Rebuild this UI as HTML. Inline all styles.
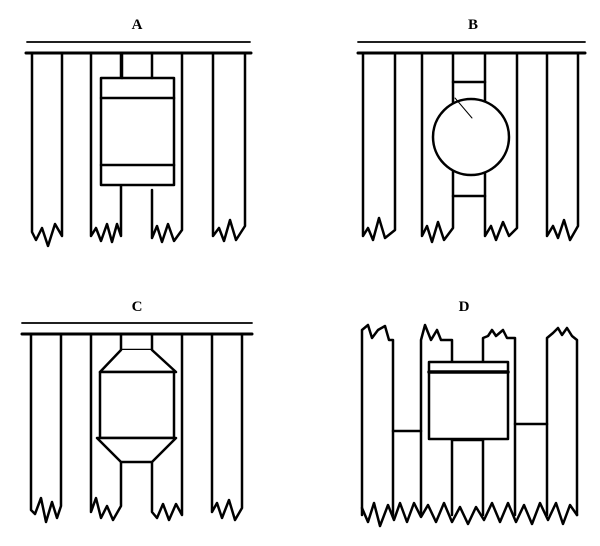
<!DOCTYPE html>
<html><head><style>html,body{margin:0;padding:0;background:#fff}svg{display:block}</style></head><body>
<svg width="600" height="546" viewBox="0 0 600 546" xmlns="http://www.w3.org/2000/svg">
<g font-family="Liberation Serif, serif" font-weight="bold" font-size="15" text-anchor="middle" fill="#000">
<text x="137" y="29">A</text><text x="473" y="29">B</text><text x="137" y="311">C</text><text x="464" y="311">D</text>
</g>
<g stroke="#000" fill="none" stroke-linecap="round" stroke-linejoin="round">
<!-- A -->
<line x1="27" y1="42" x2="250" y2="42" stroke-width="1.8"/>
<line x1="26" y1="53" x2="251" y2="53" stroke-width="3"/>
<g stroke-width="2.5">
<path d="M32 54 V232 L36 240 L42 228 L48 246 L55 224 L62 236 V54"/>
<path d="M91 54 V236 L96 228 L101 241 L107 224 L112 242 L117 224 L121 236 V54"/>
<path d="M152 190 V238 L157 226 L162 242 L168 224 L174 241 L182 230 V54"/>
<path d="M213 54 V236 L219 228 L224 241 L230 220 L236 240 L245 226 V54"/>
<rect x="101" y="78" width="73" height="107" fill="#fff"/>
<line x1="101" y1="98" x2="174" y2="98"/><line x1="101" y1="165" x2="174" y2="165"/>
<line x1="122" y1="54" x2="122" y2="78"/><line x1="152" y1="54" x2="152" y2="78"/>
</g>
<!-- B -->
<line x1="358" y1="42" x2="585" y2="42" stroke-width="1.8"/>
<line x1="358" y1="53" x2="585" y2="53" stroke-width="3"/>
<g stroke-width="2.5">
<path d="M363 54 V236 L368 228 L373 240 L379 218 L385 238 L395 230 V54"/>
<path d="M422 54 V236 L427 226 L432 242 L438 222 L444 240 L453 228 V54"/>
<path d="M485 54 V236 L491 226 L496 240 L503 222 L509 236 L517 228 V54"/>
<path d="M547 54 V236 L553 226 L558 238 L564 220 L570 240 L578 226 V54"/>
<line x1="453" y1="82" x2="485" y2="82"/>
<line x1="453" y1="196" x2="485" y2="196"/>
<circle cx="471" cy="137" r="38" fill="#fff"/>
<line x1="455" y1="98" x2="472" y2="118" stroke-width="1"/>
</g>
<!-- C -->
<line x1="22" y1="323" x2="252" y2="323" stroke-width="1.8"/>
<line x1="22" y1="334" x2="252" y2="334" stroke-width="3"/>
<g stroke-width="2.5">
<path d="M31 335 V510 L35 514 L41 498 L46 522 L52 502 L57 518 L61 506 V335"/>
<path d="M91 335 V512 L96 498 L101 518 L107 506 L113 520 L121 506 V462"/>
<path d="M152 462 V512 L157 518 L163 504 L169 520 L176 504 L182 515 V335"/>
<path d="M212 335 V512 L217 503 L222 518 L229 500 L235 520 L242 508 V335"/>
<path d="M121 335 V350 H152 V335" />
<path d="M121 350 L100 372 H176 L152 350" fill="#fff"/>
<rect x="100" y="372" width="74" height="66" fill="#fff"/>
<path d="M97 438 L121 462 H152 L176 438 Z" fill="#fff"/>
</g>
<!-- D -->
<g stroke-width="2.5">
<path d="M362 515 V330 L368 325 L372 338 L378 330 L385 326 L389 340 L393 340 V515"/>
<path d="M393 431 H421"/>
<path d="M421 515 V340 L425 325 L431 340 L437 330 L441 340 L452 340 V515"/>
<path d="M452 440 H483"/>
<path d="M483 515 V338 L488 336 L492 330 L496 336 L503 330 L507 338 L515 338 V515"/>
<path d="M515 424 H547"/>
<path d="M547 515 V338 L553 333 L558 328 L562 335 L567 328 L572 336 L577 340 V515"/>
<path d="M362 508 L368 522 L374 503 L380 526 L388 505 L394 520 L400 503 L407 522 L414 503 L421 517 L428 505 L436 522 L444 503 L452 522 L460 507 L468 524 L476 507 L484 520 L492 503 L500 522 L508 503 L516 522 L524 505 L532 524 L540 503 L548 520 L556 503 L563 524 L570 505 L577 515"/>
<rect x="429" y="362" width="79" height="77" fill="#fff"/>
<line x1="429" y1="372" x2="508" y2="372" stroke-width="3.5"/>
</g>
</g>
</svg>
</body></html>
